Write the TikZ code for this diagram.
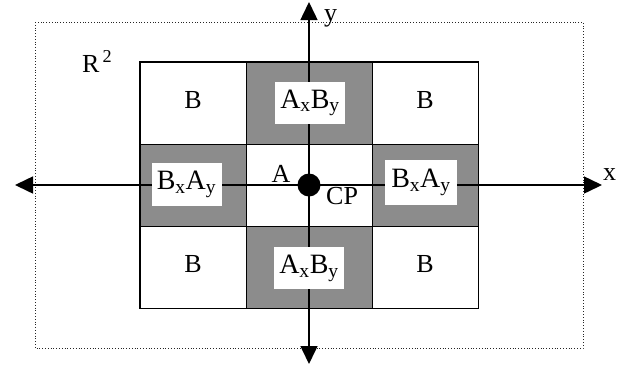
\documentclass[tikz,border=0pt]{standalone}
\usepackage{fontspec}
\setmainfont{Liberation Serif}
\usetikzlibrary{arrows.meta,positioning}
\definecolor{cellgrey}{HTML}{8C8C8C}
\tikzset{
  cellB/.style={draw=black,line width=0.8pt,fill=white,minimum width=106pt,minimum height=82pt,inner sep=0pt},
  cellG/.style={draw=black,line width=0.8pt,fill=cellgrey,minimum width=126pt,minimum height=82pt,inner sep=0pt},
  tagbox/.style={fill=white,minimum width=70pt,minimum height=42pt,inner sep=0pt,font=\fontsize{28}{32}\selectfont},
  axis/.style={line width=1.5pt,-{Triangle[length=18pt,width=17pt]}},
  lbl/.style={inner sep=0pt}
}
\begin{document}
\begin{tikzpicture}[x=1pt,y=-1pt,font=\fontsize{26}{30}\selectfont]
  \useasboundingbox (0,0) rectangle (624,365);
  % Plane R^2
  \draw[black!85,dotted,line width=0.8pt] (35,22) rectangle (583,348);
  \node[lbl,anchor=base west] (plane) at (82,72) {R\hspace{3pt}\textsuperscript{2}};
  % Corner cells
  \node[cellB] (tl) at (193,103.5) {};
  \node[cellB] (tr) at (425,103.5) {};
  \node[cellB] (bl) at (193,267) {};
  \node[cellB] (br) at (425,267) {};
  \node[lbl,anchor=base] at ([yshift=-5pt]tl.center) {B};
  \node[lbl,anchor=base] at ([yshift=-5pt]tr.center) {B};
  \node[lbl,anchor=base] at ([yshift=-5pt]bl.center) {B};
  \node[lbl,anchor=base] at ([yshift=-5pt]br.center) {B};
  % Grey cells
  \node[cellG] (top) at (309,103.5) {};
  \node[cellG] (bot) at (309,267) {};
  \node[cellG,minimum width=106pt] (lft) at (193,185.5) {};
  \node[cellG,minimum width=106pt] (rgt) at (425,185.5) {};
  % Centre cell
  \node[cellB,minimum width=126pt] (mid) at (309,185.5) {};
  % Outer border
  \draw[line width=1.6pt] (tl.north west) rectangle (br.south east);
  % Axes
  \coordinate (cp) at (309,185);
  \coordinate (xl) at (15,185);
  \coordinate (xr) at (602,185);
  \coordinate (yt) at (309,2);
  \coordinate (yb) at (309,364);
  \draw[axis] (cp) -- (xl);
  \draw[axis] (cp) -- (xr);
  \draw[axis] (cp) -- (yt);
  \draw[axis] (cp) -- (yb);
  \node[lbl,anchor=base west] (xlab) at (603,180) {x};
  \node[lbl,anchor=base west,text height=1.1ex,text depth=0.5ex] (ylab) at (324,21) {y};
  % Labels in the grey cells (over the axes)
  \node[tagbox] (topt) at (310,103) {A\textsubscript{x}B\textsubscript{y}};
  \node[tagbox] (bott) at (309,268) {A\textsubscript{x}B\textsubscript{y}};
  \node[tagbox,minimum height=43pt] (lftt) at (186.5,184.5) {B\textsubscript{x}A\textsubscript{y}};
  \node[tagbox,minimum width=72pt,minimum height=45pt] (rgtt) at (421,182.5) {B\textsubscript{x}A\textsubscript{y}};
  % Centre point
  \fill (cp) circle (11.5);
  \node[lbl,anchor=base] (alab) at (281,182) {A};
  \node[lbl,anchor=base west] (cplab) at (326,204) {CP};
\end{tikzpicture}
\end{document}
